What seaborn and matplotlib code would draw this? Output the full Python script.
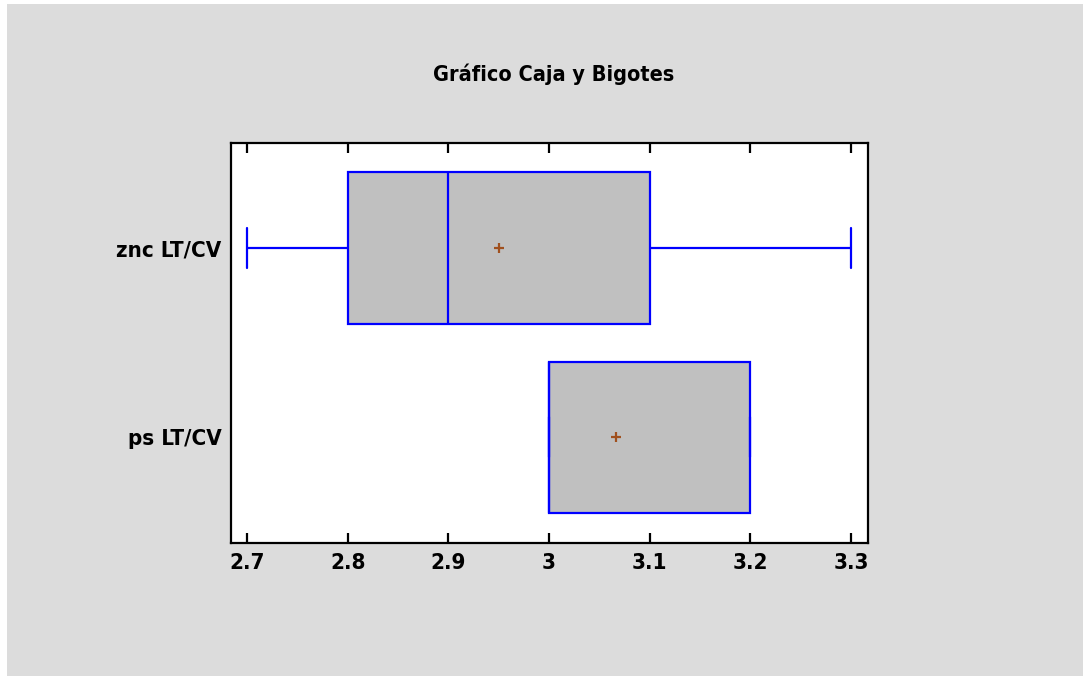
import numpy as np
import pandas as pd
import matplotlib
matplotlib.use('Agg')
import matplotlib.pyplot as plt
import seaborn as sns
from matplotlib.patches import Rectangle

# Samples (min, Q1, median, Q3, max and mean match the plot)
znc_vals = [2.7, 2.8, 2.8, 2.9, 2.9, 3.1, 3.1, 3.3]
ps_vals = [3.0, 3.0, 3.0, 3.0, 3.0, 3.0, 3.2, 3.2, 3.2]
groups = ['znc LT/CV', 'ps LT/CV']
xticks = [2.7, 2.8, 2.9, 3.0, 3.1, 3.2, 3.3]
xtick_labels = ['2.7', '2.8', '2.9', '3', '3.1', '3.2', '3.3']

data = pd.DataFrame({
    'grupo': [groups[0]] * len(znc_vals) + [groups[1]] * len(ps_vals),
    'valor': znc_vals + ps_vals,
})

sns.set_style('white')
plt.rcParams['font.family'] = ['DejaVu Sans']
plt.rcParams['font.stretch'] = 'condensed'
plt.rcParams['font.weight'] = 'bold'
plt.rcParams['text.color'] = 'black'
plt.rcParams['xtick.color'] = 'black'
plt.rcParams['ytick.color'] = 'black'

fig = plt.figure(figsize=(10.83, 6.76), dpi=100, facecolor='white')
# grey panel (thin white strip on top and left, like the original)
fig.patches.append(Rectangle((7 / 1083, 0), 1, 1 - 4 / 676, transform=fig.transFigure,
                             facecolor='#DCDCDC', edgecolor='none', zorder=-10))
ax = fig.add_axes([231 / 1083, 133 / 676, 637 / 1083, 400 / 676])
ax.set_facecolor('white')

blue = '#0000FF'
sns.boxplot(data=data, x='valor', y='grupo', order=groups, ax=ax,
            color='#C0C0C0', linecolor=blue, linewidth=1.6, width=0.8,
            whis=1.5, showmeans=True, fill=True, saturation=1,
            meanprops=dict(marker='+', markeredgecolor='#A0501E', markersize=7,
                           markeredgewidth=1.6),
            capwidths=0.21)

ax.set_xlim(2.684, 3.317)
ax.set_ylim(1.56, -0.556)
ax.set_xticks(xticks)
ax.set_xticklabels(xtick_labels)
ax.set_xlabel('')
ax.set_ylabel('')
ax.tick_params(axis='x', direction='in', top=True, bottom=True, length=7, width=1.6,
               pad=7, labelsize=16, color='black')
ax.tick_params(axis='y', length=0, pad=7, labelsize=16)
for lab in ax.get_xticklabels() + ax.get_yticklabels():
    lab.set_fontweight('bold')
for sp in ax.spines.values():
    sp.set_visible(True)
    sp.set_color('black')
    sp.set_linewidth(1.6)

fig.text(553.5 / 1083, 1 - 74 / 676, 'Gráfico Caja y Bigotes', ha='center', va='center',
         fontsize=15.5, fontweight='bold')

fig.savefig('out.png', dpi=100, facecolor=fig.get_facecolor())
